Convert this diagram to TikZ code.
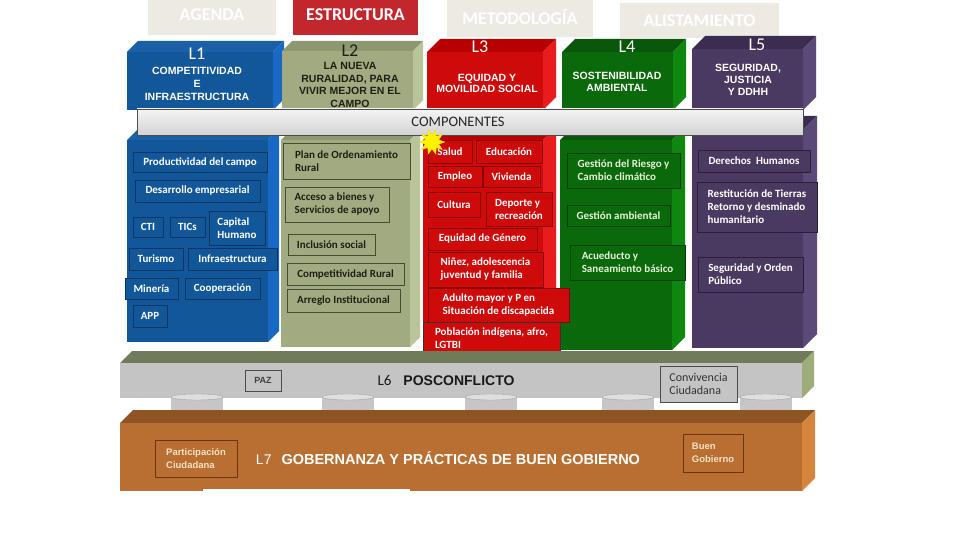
\documentclass[tikz,border=0pt]{standalone}
\usepackage{fontspec}
\setmainfont{Carlito}
\newfontfamily\arial{Liberation Sans}
\usetikzlibrary{shapes.geometric}

\definecolor{tabgris}{HTML}{ECEAE2}
\definecolor{tabroja}{HTML}{C1272D}
\definecolor{l1front}{HTML}{13579B}
\definecolor{l1top}{HTML}{1B60A6}
\definecolor{l1side}{HTML}{1769C4}
\definecolor{l1line}{HTML}{0B3563}
\definecolor{l2front}{HTML}{A2AA82}
\definecolor{l2top}{HTML}{8D9870}
\definecolor{l2side}{HTML}{B9C49A}
\definecolor{l2line}{HTML}{4A4A30}
\definecolor{l2text}{HTML}{1F1F12}
\definecolor{l3front}{HTML}{CF0A0A}
\definecolor{l3top}{HTML}{B80000}
\definecolor{l3side}{HTML}{E81C1C}
\definecolor{l3line}{HTML}{8A0000}
\definecolor{l4front}{HTML}{0A690A}
\definecolor{l4top}{HTML}{0A560A}
\definecolor{l4side}{HTML}{0F870F}
\definecolor{l4line}{HTML}{053D05}
\definecolor{l4text}{HTML}{E6F2DA}
\definecolor{l5front}{HTML}{4A3A62}
\definecolor{l5top}{HTML}{3B2D50}
\definecolor{l5side}{HTML}{5B4A78}
\definecolor{l5line}{HTML}{2A1F3A}
\definecolor{l6front}{HTML}{C4C4C4}
\definecolor{l6top}{HTML}{6F7B5A}
\definecolor{l6side}{HTML}{9DAD7A}
\definecolor{l7front}{HTML}{B96E32}
\definecolor{l7top}{HTML}{8E5424}
\definecolor{l7side}{HTML}{D6853F}
\definecolor{l7line}{HTML}{6B3510}
\definecolor{l7text}{HTML}{F6E2C4}

% bloque 3D: x1 y1 x2 y2 fondo frente arriba lado
\newcommand{\bloque}[8]{%
  \fill[#7] (#1,#2) -- (#1+#5,#2-#5) -- (#3+#5,#2-#5) -- (#3,#2) -- cycle;
  \fill[#8] (#3,#2) -- (#3+#5,#2-#5) -- (#3+#5,#4-#5) -- (#3,#4) -- cycle;
  \fill[#6] (#1,#2) rectangle (#3,#4);}
\newcommand{\cilindro}[1]{%
  \fill[gray!45] (#1-26,397) rectangle (#1+26,412);
  \draw[gray!70, fill=gray!25] (#1,397) ellipse [x radius=26pt, y radius=3pt];}

\tikzset{
  caja/.style={rectangle, line width=0.7pt, inner sep=2pt, align=left, font=\bfseries\fontsize{11}{13}\selectfont},
  cajaazul/.style={caja, fill=l1front, draw=l1line, text=white},
  cajaoliva/.style={caja, fill=l2front, draw=l2line, text=l2text},
  cajaroja/.style={caja, fill=l3front, draw=l3line, text=white},
  cajaverde/.style={caja, fill=l4front, draw=l4line, text=l4text},
  cajamorada/.style={caja, fill=l5front, draw=l5line, text=white},
  pestana/.style={rectangle, font=\bfseries\fontsize{18}{18}\selectfont},
  titulo/.style={align=center, font=\arial\bfseries\fontsize{10.5}{12.5}\selectfont},
  numlinea/.style={font=\fontsize{18}{18}\selectfont},
}

\begin{document}
\begin{tikzpicture}[x=1pt, y=-1pt]
\fill[white] (0,0) rectangle (960,540);
\useasboundingbox (0,0) rectangle (960,540);

% pestanas
\node[pestana, fill=tabgris, text=white, minimum width=128pt, minimum height=40pt](agenda) at (212,15){AGENDA};
\node[pestana, fill=tabroja, text=white, minimum width=125pt, minimum height=40pt](estructura) at (355.5,15){ESTRUCTURA};
\node[pestana, fill=tabgris, text=white, minimum width=146pt, minimum height=40pt](metodologia) at (520,17){METODOLOGÍA};
\node[pestana, fill=tabgris, text=white, minimum width=159pt, minimum height=35pt](alistamiento) at (699.5,20.5){ALISTAMIENTO};

% lineas arriba
\bloque{127}{52}{273}{110}{11}{l1front}{l1top}{l1side}
\bloque{282}{51}{413}{110}{10}{l2front}{l2top}{l2side}
\bloque{427}{52}{543}{110}{13}{l3front}{l3top}{l3side}
\bloque{562}{52}{673}{110}{13}{l4front}{l4top}{l4side}
\bloque{692}{49}{803}{110}{13}{l5front}{l5top}{l5side}
% lineas abajo
\bloque{127}{140}{268}{342}{11}{l1front}{l1top}{l1side}
\bloque{281}{140}{410}{347}{10}{l2front}{l2top}{l2side}
\bloque{423}{140}{543}{352}{13}{l3front}{l3top}{l3side}
\bloque{560}{140}{672}{350}{13}{l4front}{l4top}{l4side}
\bloque{692}{130}{803}{348}{14}{l5front}{l5top}{l5side}

\node[numlinea, text=white](l1) at (197,54){L1};
\node[numlinea, text=l2text](l2) at (350,51){L2};
\node[numlinea, text=white](l3) at (480,47){L3};
\node[numlinea, text=white](l4) at (627,47){L4};
\node[numlinea, text=white](l5) at (757,45){L5};

\node[titulo, text=white, font=\arial\bfseries\fontsize{10.5}{13}\selectfont](tit1) at (197,84){COMPETITIVIDAD\\E\\INFRAESTRUCTURA};
\node[titulo, text=l2text](tit2) at (350,85){LA NUEVA\\RURALIDAD, PARA\\VIVIR MEJOR EN EL\\CAMPO};
\node[titulo, text=white, font=\arial\bfseries\fontsize{10.5}{11.7}\selectfont](tit3) at (487,83.5){EQUIDAD Y\\MOVILIDAD SOCIAL};
\node[titulo, text=white, font=\arial\bfseries\fontsize{10.5}{12}\selectfont](tit4) at (617,82){SOSTENIBILIDAD\\AMBIENTAL};
\node[titulo, text=white, font=\arial\bfseries\fontsize{10.5}{12}\selectfont](tit5) at (748,80){SEGURIDAD,\\JUSTICIA\\Y DDHH};

% componentes
\node[draw=gray!60!black, top color=gray!8, bottom color=gray!35, minimum width=666pt, minimum height=26pt, font=\fontsize{14.5}{14.5}\selectfont, text=black!85](componentes) at (470,122){\hspace{-24pt}COMPONENTES};

% L1
\node[cajaazul, minimum width=134pt, minimum height=20pt](prod) at (200,162){Productividad del campo};
\node[cajaazul, minimum width=125pt, minimum height=22pt](desa) at (197.5,191){Desarrollo empresarial};
\node[cajaazul, minimum width=30pt, minimum height=20pt](cti) at (148,227){CTI};
\node[cajaazul, minimum width=35pt, minimum height=20pt](tics) at (187.5,227){TICs};
\node[cajaazul, minimum width=56pt, minimum height=34pt](capital) at (237,228){Capital\\Humano};
\node[cajaazul, minimum width=54pt, minimum height=22pt](turismo) at (156,259){Turismo};
\node[cajaazul, minimum width=89pt, minimum height=22pt](infra) at (232.5,259){Infraestructura};
\node[cajaazul, minimum width=53pt, minimum height=21pt](mineria) at (151.5,288.5){Minería};
\node[cajaazul, minimum width=75pt, minimum height=21pt](coop) at (222.5,288.5){Cooperación};
\node[cajaazul, minimum width=34pt, minimum height=22pt](app) at (150,316){APP};

% L2
\node[cajaoliva, minimum width=127pt, minimum height=36pt](plan) at (346.5,161){Plan de Ordenamiento\\Rural};
\node[cajaoliva, minimum width=104pt, minimum height=35pt](acceso) at (337,204.5){Acceso a bienes y\\Servicios de apoyo};
\node[cajaoliva, minimum width=87pt, minimum height=21pt](inclusion) at (331.5,244.5){Inclusión social};
\node[cajaoliva, minimum width=117pt, minimum height=22pt](comprural) at (345.5,274){Competitividad Rural};
\node[cajaoliva, minimum width=113pt, minimum height=23pt](arreglo) at (343.5,300.5){Arreglo Institucional};

% L3
\node[cajaroja, minimum width=44pt, minimum height=23pt](salud) at (450,151.5){Salud};
\node[cajaroja, minimum width=66pt, minimum height=23pt](educacion) at (509,151.5){Educación};
\node[cajaroja, minimum width=54pt, minimum height=21pt](empleo) at (455,176.5){Empleo};
\node[cajaroja, minimum width=57pt, minimum height=21pt](vivienda) at (511.5,176.5){Vivienda};
\node[cajaroja, minimum width=52pt, minimum height=25pt](cultura) at (454,204.5){Cultura};
\node[cajaroja, minimum width=66pt, minimum height=34pt](deporte) at (519,209){Deporte y\\recreación};
\node[cajaroja, minimum width=109pt, minimum height=22pt](genero) at (482.5,239){Equidad de Género};
\node[cajaroja, minimum width=115pt, minimum height=35pt](ninez) at (485.5,269.5){Niñez, adolescencia\\juventud y familia};
\node[cajaroja, minimum width=141pt, minimum height=34pt](adulto) at (498.5,305){Adulto mayor y P en\\Situación de discapacida};
\node[cajaroja, draw=black!80, line width=0.5pt, minimum width=137pt, minimum height=33pt](poblacion) at (491.5,338.5){Población indígena, afro,\\LGTBI};
\node[star, star points=10, star point ratio=0.55, fill=yellow, draw=yellow!80!orange, minimum size=14pt, inner sep=0pt](estrella) at (432,142){};

% L4
\node[cajaverde, minimum width=113pt, minimum height=35pt](riesgo) at (623.5,170.5){Gestión del Riesgo y\\Cambio climático};
\node[cajaverde, minimum width=103pt, minimum height=21pt](ambiental) at (618.5,215.5){Gestión ambiental};
\node[cajaverde, minimum width=115pt, minimum height=35pt](acueducto) at (627.5,262.5){Acueducto y\\Saneamiento básico};

% L5
\node[cajamorada, minimum width=112pt, minimum height=22pt](ddhh) at (754,161){Derechos\ \ Humanos};
\node[cajamorada, minimum width=120pt, minimum height=50pt](restitucion) at (757,207){Restitución de Tierras\\Retorno y desminado\\humanitario};
\node[cajamorada, minimum width=105pt, minimum height=35pt](seguridad) at (750.5,274.5){Seguridad y Orden\\Público};

% L6 posconflicto
\bloque{120}{363}{802}{398}{12}{l6front}{l6top}{l6side}
\cilindro{197}
\cilindro{348}
\cilindro{491}
\cilindro{628}
\cilindro{766}
\node[rectangle, draw=black!70, fill=l6front, minimum width=36pt, minimum height=21pt, font=\arial\bfseries\fontsize{9}{10}\selectfont, text=black!75](paz) at (263,380.5){PAZ};
\node[rectangle, draw=black!70, fill=l6front, minimum width=77pt, minimum height=36pt, align=left, font=\fontsize{12}{12.5}\selectfont, text=black!80](convivencia) at (698.5,384){Convivencia\\Ciudadana};
\node[text=black!90](l6) at (446,381){{\fontsize{15}{15}\selectfont L6}\hspace{12pt}{\arial\bfseries\fontsize{14}{14}\selectfont POSCONFLICTO}};

% L7 gobernanza
\bloque{120}{423}{802}{491}{13}{l7front}{l7top}{l7side}
\fill[white] (203,489) rectangle (410,493);
\node[rectangle, draw=l7line, line width=0.8pt, fill=l7front, minimum width=82pt, minimum height=37pt, align=left, font=\arial\bfseries\fontsize{9.5}{12.5}\selectfont, text=l7text](participacion) at (196,458.5){Participación\\Ciudadana};
\node[rectangle, draw=l7line, line width=0.8pt, fill=l7front, minimum width=60pt, minimum height=38pt, align=left, font=\arial\bfseries\fontsize{9.5}{12.5}\selectfont, text=l7text](buengob) at (713,453){Buen\\Gobierno};
\node[text=white](l7) at (448,458){{\arial\fontsize{14}{14}\selectfont L7}\hspace{10pt}{\arial\bfseries\fontsize{14.5}{14.5}\selectfont GOBERNANZA Y PRÁCTICAS DE BUEN GOBIERNO}};
\end{tikzpicture}
\end{document}
